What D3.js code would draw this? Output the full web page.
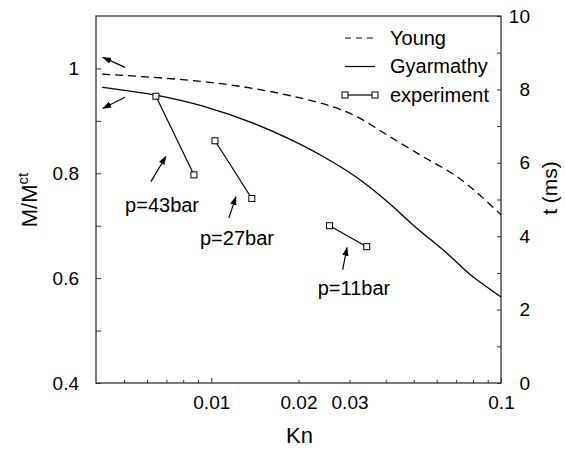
<!DOCTYPE html>
<html>
<head>
<meta charset="utf-8">
<script src="https://cdn.jsdelivr.net/npm/d3@7"></script>
<style>
  body { margin: 0; background: #fff; }
  svg { font-family: "Liberation Sans", Arial, sans-serif; }
</style>
</head>
<body>
<svg id="chart" width="565" height="449"></svg>
<script>
// --- data ---
const youngKn = [0.0042, 0.0191, 0.0318, 0.0413, 0.0537, 0.0703, 0.1];
const youngM  = [0.989, 0.947, 0.908, 0.870, 0.832, 0.794, 0.721];

const gyarKn = [0.0042, 0.00644, 0.00936, 0.0185, 0.0243, 0.0318, 0.0413, 0.0496, 0.0649, 0.0798, 0.0844, 0.1];
const gyarM  = [0.964, 0.949, 0.928, 0.866, 0.832, 0.792, 0.742, 0.702, 0.648, 0.603, 0.593, 0.564];

// experiment: pairs of points for each pressure
const expLabels = ['p=43bar', 'p=27bar', 'p=11bar'];
const expKn = [[0.00644, 0.00871], [0.0103, 0.0138], [0.0256, 0.0344]];
const expM  = [[0.947, 0.797], [0.862, 0.752], [0.700, 0.660]];

// label anchors and arrows (data units)
const labelKn = [0.00504, 0.00914, 0.0233];
const labelM  = [0.727, 0.664, 0.568];
const arrowFromKn = [0.00504, 0.00504, 0.00619, 0.0115, 0.0284];
const arrowFromM  = [1.002, 0.945, 0.784, 0.715, 0.616];
const arrowToKn   = [0.00423, 0.00423, 0.00697, 0.01216, 0.0294];
const arrowToM    = [1.021, 0.924, 0.832, 0.755, 0.658];

const xLabelTicks = [0.01, 0.02, 0.03, 0.1];
const xTicks = [0.005, 0.006, 0.007, 0.008, 0.009, 0.01, 0.02, 0.03, 0.04, 0.05, 0.06, 0.07, 0.08, 0.09, 0.1];
const yMajor = [0.4, 0.6, 0.8, 1];
const yMinor = [0.5, 0.7, 0.9];
const tTicks = [0, 1, 2, 3, 4, 5, 6, 7, 8, 9, 10];
const tLabels = [0, 2, 4, 6, 8, 10];

// --- layout ---
const plot = {left: 96, right: 501, top: 16, bottom: 383};
const svg = d3.select('#chart');

const x = d3.scaleLog().domain([0.004, 0.1]).range([plot.left, plot.right]);
const y = d3.scaleLinear().domain([0.4, 1.1]).range([plot.bottom, plot.top]);
const yt = d3.scaleLinear().domain([0, 10]).range([plot.bottom, plot.top]);

const axisColor = '#333';

// bottom axis
const xAxis = svg.append('g')
  .attr('transform', `translate(0,${plot.bottom})`)
  .call(d3.axisBottom(x).tickValues(xTicks).tickSize(-4).tickPadding(13)
    .tickFormat(d => xLabelTicks.includes(d) ? String(d) : ''));
xAxis.select('.domain').remove();
xAxis.selectAll('.tick line').attr('stroke', axisColor)
  .attr('y2', d => (d === 0.01 || d === 0.1) ? -5 : -3);
xAxis.selectAll('text').attr('font-size', 19).attr('fill', '#000').attr('font-family', null);

// left axis
const yAxis = svg.append('g')
  .attr('transform', `translate(${plot.left},0)`)
  .call(d3.axisLeft(y).tickValues(yMajor.concat(yMinor)).tickSize(-5).tickPadding(17)
    .tickFormat(d => yMajor.includes(d) ? String(d) : ''));
yAxis.select('.domain').remove();
yAxis.selectAll('.tick line').attr('stroke', axisColor);
yAxis.selectAll('text').attr('font-size', 19).attr('fill', '#000').attr('font-family', null);

// right axis
const tAxis = svg.append('g')
  .attr('transform', `translate(${plot.right},0)`)
  .call(d3.axisRight(yt).tickValues(tTicks).tickSize(-4).tickPadding(29)
    .tickFormat(d => tLabels.includes(d) ? String(d) : ''));
tAxis.select('.domain').remove();
tAxis.selectAll('.tick line').attr('stroke', axisColor);
tAxis.selectAll('text').attr('font-size', 19).attr('fill', '#000').attr('font-family', null)
  .attr('text-anchor', 'end');

// frame
svg.append('rect')
  .attr('x', plot.left).attr('y', plot.top)
  .attr('width', plot.right - plot.left).attr('height', plot.bottom - plot.top)
  .attr('fill', 'none').attr('stroke', axisColor).attr('stroke-width', 1.3);

// axis titles
svg.append('text')
  .attr('x', (plot.left + plot.right) / 2 + 1).attr('y', 443)
  .attr('text-anchor', 'middle').attr('font-size', 22).text('Kn');

const yTitle = svg.append('text')
  .attr('transform', 'translate(37,200) rotate(-90)')
  .attr('text-anchor', 'middle').attr('font-size', 22);
yTitle.append('tspan').text('M/M');
yTitle.append('tspan').attr('font-size', 15).attr('dy', -9).text('ct');

svg.append('text')
  .attr('transform', 'translate(557,188) rotate(-90)')
  .attr('text-anchor', 'middle').attr('font-size', 21).text('t (ms)');

// curves
const line = d3.line().x(d => x(d[0])).y(d => y(d[1]));
const smooth = d3.line().x(d => x(d[0])).y(d => y(d[1])).curve(d3.curveMonotoneX);
svg.append('path')
  .datum(d3.zip(youngKn, youngM))
  .attr('d', smooth).attr('fill', 'none').attr('stroke', '#000')
  .attr('stroke-width', 1.3).attr('stroke-dasharray', '8,5');
svg.append('path')
  .datum(d3.zip(gyarKn, gyarM))
  .attr('d', smooth).attr('fill', 'none').attr('stroke', '#000')
  .attr('stroke-width', 1.3);

// experiment
const expG = svg.append('g');
expKn.forEach((kns, i) => {
  const pts = d3.zip(kns, expM[i]);
  expG.append('path').datum(pts).attr('d', line)
    .attr('fill', 'none').attr('stroke', '#000').attr('stroke-width', 1.2);
  expG.selectAll(null).data(pts).join('rect')
    .attr('x', d => x(d[0]) - 3).attr('y', d => y(d[1]) - 3)
    .attr('width', 6).attr('height', 6)
    .attr('fill', '#fff').attr('stroke', '#000').attr('stroke-width', 1);
});

// arrows
svg.append('defs').append('marker')
  .attr('id', 'arrow').attr('viewBox', '0 0 10 10')
  .attr('refX', 9).attr('refY', 5)
  .attr('markerWidth', 9).attr('markerHeight', 9)
  .attr('markerUnits', 'userSpaceOnUse')
  .attr('orient', 'auto')
  .append('path').attr('d', 'M0,1.5 L10,5 L0,8.5 Z').attr('fill', '#000');

svg.append('g').selectAll('line')
  .data(d3.range(arrowFromKn.length))
  .join('line')
  .attr('x1', i => x(arrowFromKn[i])).attr('y1', i => y(arrowFromM[i]))
  .attr('x2', i => x(arrowToKn[i])).attr('y2', i => y(arrowToM[i]))
  .attr('stroke', '#000').attr('stroke-width', 1.2)
  .attr('marker-end', 'url(#arrow)');

svg.append('g').selectAll('text')
  .data(expLabels)
  .join('text')
  .attr('x', (d, i) => x(labelKn[i])).attr('y', (d, i) => y(labelM[i]))
  .attr('font-size', 20).text(d => d);

// legend
const legend = svg.append('g').attr('transform', 'translate(345,38)');
const rowH = 28.5;
legend.append('line').attr('x1', 0).attr('x2', 30).attr('y1', 0).attr('y2', 0)
  .attr('stroke', '#000').attr('stroke-width', 1.2).attr('stroke-dasharray', '6,5');
legend.append('line').attr('x1', 0).attr('x2', 30).attr('y1', rowH).attr('y2', rowH)
  .attr('stroke', '#000').attr('stroke-width', 1.2);
legend.append('line').attr('x1', 0).attr('x2', 30).attr('y1', 2 * rowH).attr('y2', 2 * rowH)
  .attr('stroke', '#000').attr('stroke-width', 1.2);
legend.selectAll('rect').data([0, 30]).join('rect')
  .attr('x', d => d - 3).attr('y', 2 * rowH - 3).attr('width', 6).attr('height', 6)
  .attr('fill', '#fff').attr('stroke', '#000').attr('stroke-width', 1);
legend.selectAll('text').data(['Young', 'Gyarmathy', 'experiment']).join('text')
  .attr('x', 45).attr('y', (d, i) => i * rowH + 6.5)
  .attr('font-size', 20).text(d => d);
</script>
</body>
</html>
